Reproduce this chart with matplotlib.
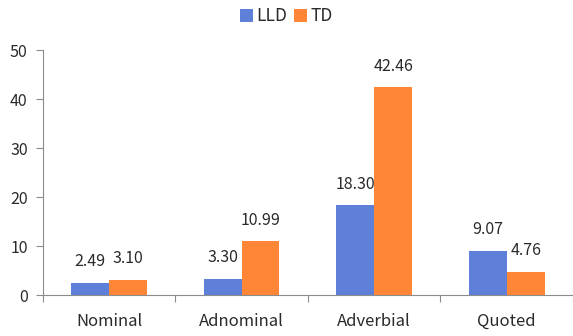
import numpy as np
import matplotlib.pyplot as plt

plt.rcParams["font.family"] = ["Noto Sans CJK KR", "DejaVu Sans"]

categories = ["Nominal", "Adnominal", "Adverbial", "Quoted"]
lld = [2.49, 3.30, 18.30, 9.07]
td = [3.10, 10.99, 42.46, 4.76]

blue = "#5f80d8"
orange = "#ff8637"
grey = "#8c8c8c"
txt = "#2a2a2a"

fig = plt.figure(figsize=(5.73, 3.36), dpi=100)
ax = fig.add_axes([0.075, 0.122, 0.925, 0.729])

x = np.arange(len(categories))
w = 0.285
b1 = ax.bar(x - w / 2, lld, w, color=blue, label="LLD")
b2 = ax.bar(x + w / 2, td, w, color=orange, label="TD")

for bars, vals in ((b1, lld), (b2, td)):
    for rect, v in zip(bars, vals):
        ax.annotate(f"{v:.2f}", (rect.get_x() + rect.get_width() / 2, v),
                    xytext=(0, 9), textcoords="offset points",
                    ha="center", va="bottom", fontsize=11.5, color=txt)

ax.set_ylim(0, 50)
ax.set_yticks(range(0, 51, 10))
ax.set_xlim(-0.5, 3.5 - 0.015)

# ticks sit on the category boundaries, labels in the middle
ax.set_xticks(np.arange(-0.5, 4, 1))
ax.set_xticklabels([])
ax.set_xticks(x, minor=True)
ax.set_xticklabels(categories, minor=True)
ax.tick_params(axis="x", which="minor", length=0, pad=13, labelsize=12,
               labelcolor=txt)
ax.tick_params(axis="x", which="major", length=5, color=grey)
ax.tick_params(axis="y", length=5, color=grey, pad=6, labelsize=11.5,
               labelcolor=txt)

for s in ["top", "right"]:
    ax.spines[s].set_visible(False)
for s in ["left", "bottom"]:
    ax.spines[s].set_color(grey)

leg = fig.legend(loc="upper center", bbox_to_anchor=(0.5, 1.025), ncol=2,
                 frameon=False, fontsize=12.5, handlelength=0.75,
                 handleheight=0.75, handletextpad=0.2, columnspacing=0.4)
for t in leg.get_texts():
    t.set_color(txt)

fig.savefig("out.png", dpi=100)
